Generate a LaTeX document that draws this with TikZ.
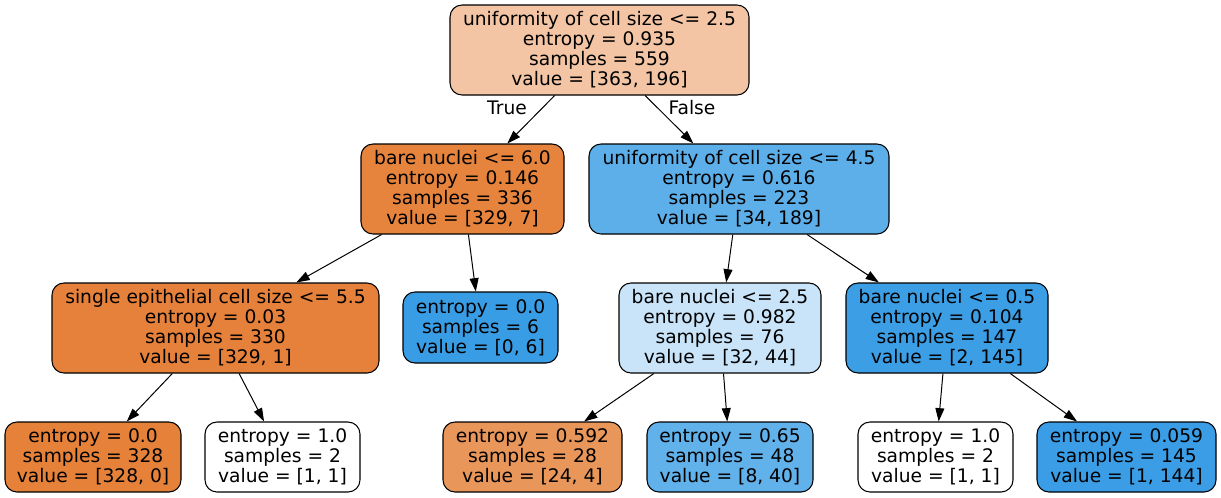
\documentclass[tikz,border=0pt]{standalone}
\usepackage{fontspec}
\setmainfont{DejaVu Sans}
\usetikzlibrary{arrows.meta}
\definecolor{cRoot}{RGB}{243,197,164}
\definecolor{cA}{RGB}{230,132,61}
\definecolor{cB}{RGB}{93,175,234}
\definecolor{cC}{RGB}{229,129,58}
\definecolor{cD}{RGB}{57,157,229}
\definecolor{cE}{RGB}{201,228,248}
\definecolor{cF}{RGB}{60,158,229}
\definecolor{cG}{RGB}{229,129,57}
\definecolor{cH}{RGB}{233,150,90}
\definecolor{cI}{RGB}{97,177,234}
\definecolor{cJ}{RGB}{58,157,229}
\tikzset{
  treenode/.style={draw=black, line width=0.8pt, rounded corners=9pt, align=center,
    inner sep=0pt, minimum height=67.5pt,
    font=\fontsize{14}{15}\selectfont},
  leafnode/.style={treenode, minimum height=52.5pt},
  edge/.style={draw=black, line width=0.75pt, -{Triangle[length=10pt,width=6.7pt]}},
  elabel/.style={font=\fontsize{14}{15}\selectfont, inner sep=0pt}
}
\begin{document}
\begin{tikzpicture}[x=0.75pt,y=-0.75pt]
\useasboundingbox (0,0) rectangle (1221,497);
\node[treenode, fill=cRoot, minimum width=224.25pt] (root) at (599.5,50)
  {uniformity of cell size <= 2.5\\entropy = 0.935\\samples = 559\\value = [363, 196]};
\node[treenode, fill=cA, minimum width=152.25pt] (n1) at (462.5,189)
  {bare nuclei <= 6.0\\entropy = 0.146\\samples = 336\\value = [329, 7]};
\node[treenode, fill=cB, minimum width=225pt] (n2) at (739,189)
  {uniformity of cell size <= 4.5\\entropy = 0.616\\samples = 223\\value = [34, 189]};
\node[treenode, fill=cC, minimum width=245.25pt] (n3) at (215.5,328)
  {single epithelial cell size <= 5.5\\entropy = 0.03\\samples = 330\\value = [329, 1]};
\node[treenode, fill=cD, minimum width=116.25pt, minimum height=53.25pt] (n4) at (480.5,327.5)
  {entropy = 0.0\\samples = 6\\value = [0, 6]};
\node[treenode, fill=cE, minimum width=151.5pt] (n5) at (720,328)
  {bare nuclei <= 2.5\\entropy = 0.982\\samples = 76\\value = [32, 44]};
\node[treenode, fill=cF, minimum width=151.5pt] (n6) at (947,328)
  {bare nuclei <= 0.5\\entropy = 0.104\\samples = 147\\value = [2, 145]};
\node[leafnode, fill=cG, minimum width=132pt] (l1) at (93,457)
  {entropy = 0.0\\samples = 328\\value = [328, 0]};
\node[leafnode, fill=white, minimum width=116.25pt] (l2) at (282.5,457)
  {entropy = 1.0\\samples = 2\\value = [1, 1]};
\node[leafnode, fill=cH, minimum width=134.25pt] (l3) at (532.5,457)
  {entropy = 0.592\\samples = 28\\value = [24, 4]};
\node[leafnode, fill=cI, minimum width=124.5pt] (l4) at (730,457)
  {entropy = 0.65\\samples = 48\\value = [8, 40]};
\node[leafnode, fill=white, minimum width=116.25pt] (l5) at (935.5,457)
  {entropy = 1.0\\samples = 2\\value = [1, 1]};
\node[leafnode, fill=cJ, minimum width=134.25pt] (l6) at (1126.5,457)
  {entropy = 0.059\\samples = 145\\value = [1, 144]};
\draw[edge] (root) -- (n1);
\draw[edge] (root) -- (n2);
\draw[edge] (n1) -- (n3);
\draw[edge] (n1) -- (n4);
\draw[edge] (n2) -- (n5);
\draw[edge] (n2) -- (n6);
\draw[edge] (n3) -- (l1);
\draw[edge] (n3) -- (l2);
\draw[edge] (n5) -- (l3);
\draw[edge] (n5) -- (l4);
\draw[edge] (n6) -- (l5);
\draw[edge] (n6) -- (l6);
\node[elabel] (tlab) at (507,108) {True};
\node[elabel] (flab) at (692,108) {False};
\end{tikzpicture}
\end{document}
